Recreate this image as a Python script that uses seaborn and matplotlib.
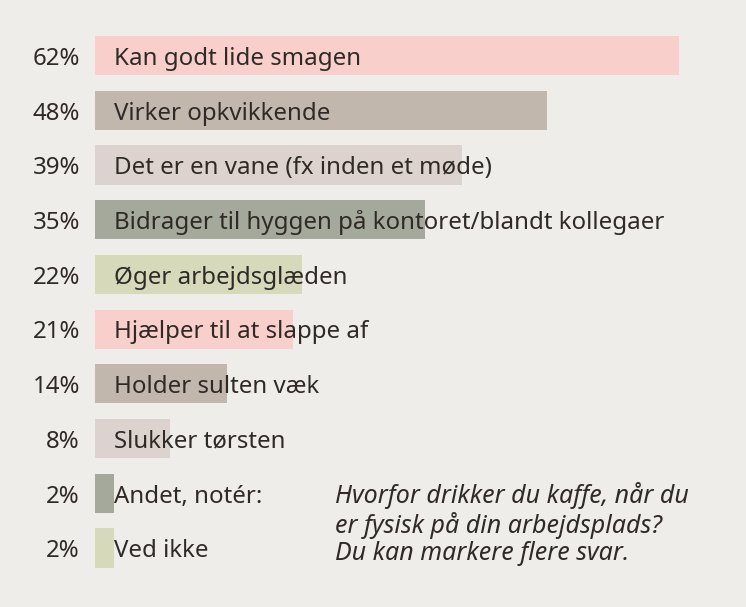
import matplotlib
matplotlib.use("Agg")
import matplotlib.pyplot as plt
import seaborn as sns
import pandas as pd

categories = [
    "Kan godt lide smagen",
    "Virker opkvikkende",
    "Det er en vane (fx inden et møde)",
    "Bidrager til hyggen på kontoret/blandt kollegaer",
    "Øger arbejdsglæden",
    "Hjælper til at slappe af",
    "Holder sulten væk",
    "Slukker tørsten",
    "Andet, notér:",
    "Ved ikke",
]
values = [62, 48, 39, 35, 22, 21, 14, 8, 2, 2]
colors = ["#f9cfcc", "#c2b7ac", "#dcd3ce", "#a4a99b", "#d6dabb",
          "#f9cfcc", "#c2b7ac", "#dcd3ce", "#a4a99b", "#d6dabb"]
note = "Hvorfor drikker du kaffe, når du\ner fysisk på din arbejdsplads?\nDu kan markere flere svar."

sns.set_theme(style="white")
plt.rcParams["font.family"] = ["Noto Sans", "DejaVu Sans"]
BG = "#efede9"
TXT = "#302a27"

df = pd.DataFrame({"cat": categories, "val": values})

W, H = 746, 607
fig = plt.figure(figsize=(W / 100, H / 100), dpi=100)
fig.patch.set_facecolor(BG)
pitch = 54.7
top = 55.5 - pitch / 2
bottom = 548 + pitch / 2
ax = fig.add_axes([95 / W, 1 - bottom / H, 612.3 / W, (bottom - top) / H])
ax.set_facecolor(BG)
sns.barplot(data=df, y="cat", x="val", hue="cat", palette=colors, orient="h",
            width=0.715, legend=False, ax=ax, saturation=1, linewidth=0)
ax.set_xlim(0, 65)
ax.set_ylim(len(categories) - 0.5, -0.5)
ax.axis("off")

for i, (c, v) in enumerate(zip(categories, values)):
    ax.text(-1.6, i + 0.06, f"{v}%", ha="right", va="center", fontsize=17.3,
            color=TXT)
    ax.text(2.0, i + 0.06, c, ha="left", va="center", fontsize=17.3,
            color=TXT)

fig.text(335 / W, 1 - 524 / H, note, ha="left", va="center", fontsize=18,
         style="italic", color=TXT, linespacing=1.12)

fig.savefig("out.png", dpi=100, facecolor=BG)
